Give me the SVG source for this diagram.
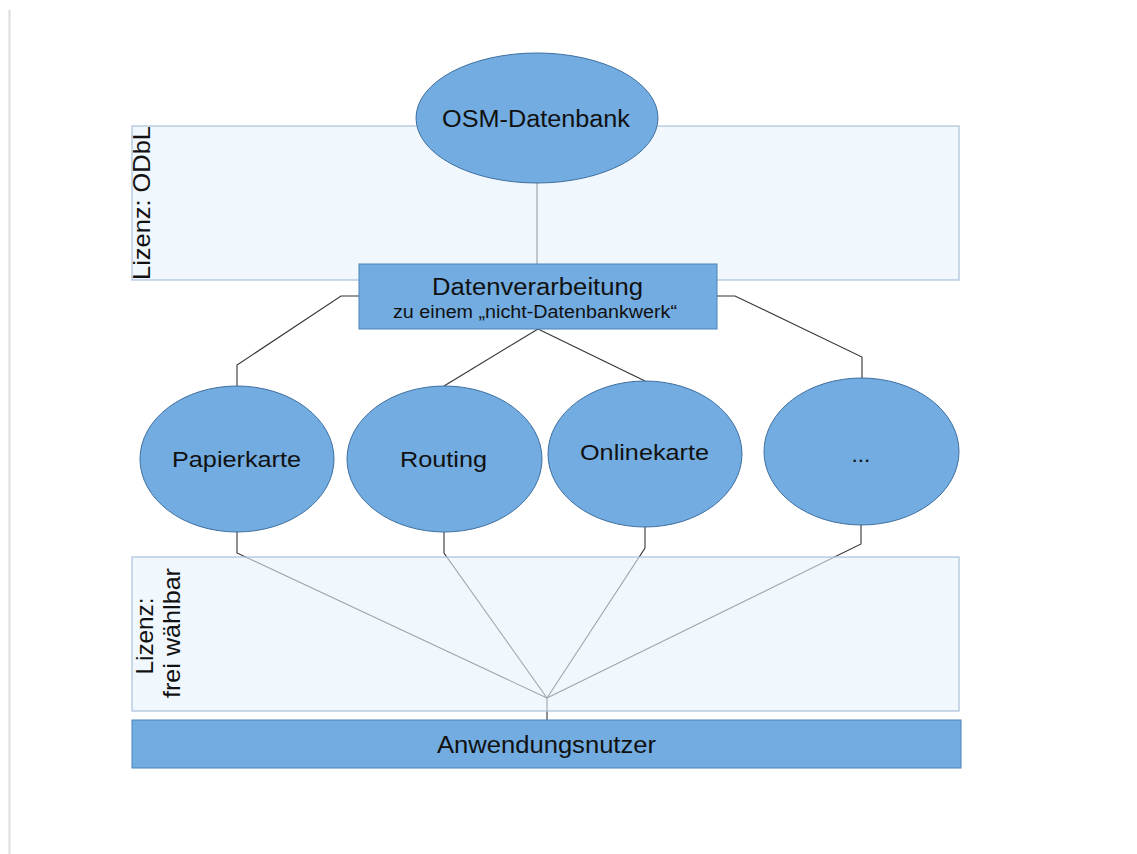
<svg xmlns="http://www.w3.org/2000/svg" width="1137" height="854" viewBox="0 0 1137 854">
<style>
  text { font-family: "Liberation Sans", Arial, sans-serif; fill: #111; }
  .band { fill: #e6f1fb; fill-opacity: 0.6; stroke: #a9c0da; stroke-width: 1.2; }
  .node { fill: #72ace0; stroke: #3f6f9f; stroke-width: 1; }
  .box { fill: #72ace0; stroke: #4a84bd; stroke-width: 1; }
  .conn { fill: none; stroke: #333; stroke-width: 1.1; }
  .big { font-size: 23.5px; }
  .mid { font-size: 22.5px; }
</style>
<rect x="0" y="0" width="1137" height="854" fill="#ffffff"/>
<line x1="9.5" y1="10" x2="9.5" y2="854" stroke="#dcdcdc" stroke-width="2"/>

<g id="connectors">
  <line class="conn" x1="537" y1="183" x2="537" y2="264" style="stroke:#222"/>
  <polyline class="conn" points="359,296 341,296 237,365 237,386"/>
  <polyline class="conn" points="538,329 444,386"/>
  <polyline class="conn" points="538,329 645,381"/>
  <polyline class="conn" points="717,296 735,296 862,357 862,378"/>
  <polyline class="conn" points="237,532 237,553 547,698"/>
  <polyline class="conn" points="444,532 444,553 547,698"/>
  <polyline class="conn" points="645,527 645,548 547,698"/>
  <polyline class="conn" points="861,525 861,544 547,698"/>
  <line class="conn" x1="547" y1="698" x2="547" y2="720"/>
</g>

<g id="band-odbl">
  <rect class="band" x="132" y="126" width="827" height="154"/>
  <text transform="translate(150,203) rotate(-90)" text-anchor="middle" style="font-size:24.5px" textLength="154" lengthAdjust="spacingAndGlyphs">Lizenz: ODbL</text>
</g>

<g id="band-frei">
  <rect class="band" x="132" y="557" width="827" height="154"/>
  <text transform="translate(153,636) rotate(-90)" text-anchor="middle" style="font-size:24.5px" textLength="77" lengthAdjust="spacingAndGlyphs">Lizenz:</text>
  <text transform="translate(180,633) rotate(-90)" text-anchor="middle" style="font-size:24.5px" textLength="130" lengthAdjust="spacingAndGlyphs">frei wählbar</text>
</g>

<g id="osm-datenbank">
  <ellipse class="node" cx="537" cy="118" rx="121" ry="65"/>
  <text class="big" x="442" y="127" textLength="188" lengthAdjust="spacingAndGlyphs">OSM-Datenbank</text>
</g>

<g id="datenverarbeitung">
  <rect class="box" x="359" y="264" width="358" height="65"/>
  <text class="big" x="432" y="295" textLength="211" lengthAdjust="spacingAndGlyphs">Datenverarbeitung</text>
  <text x="393" y="318" style="font-size:17.5px" textLength="284" lengthAdjust="spacingAndGlyphs">zu einem „nicht-Datenbankwerk“</text>
</g>

<g id="papierkarte">
  <ellipse class="node" cx="237" cy="459" rx="97" ry="73"/>
  <text class="mid" x="172" y="467" textLength="129" lengthAdjust="spacingAndGlyphs">Papierkarte</text>
</g>

<g id="routing">
  <ellipse class="node" cx="444.5" cy="459" rx="97.5" ry="73"/>
  <text class="mid" x="400" y="467" textLength="87" lengthAdjust="spacingAndGlyphs">Routing</text>
</g>

<g id="onlinekarte">
  <ellipse class="node" cx="645" cy="454" rx="97" ry="73"/>
  <text class="mid" x="580" y="460" textLength="129" lengthAdjust="spacingAndGlyphs">Onlinekarte</text>
</g>

<g id="weitere">
  <ellipse class="node" cx="861.5" cy="451.5" rx="97.5" ry="73.5"/>
  <text class="mid" x="861" y="462" text-anchor="middle">...</text>
</g>

<g id="anwendungsnutzer">
  <rect class="box" x="132" y="720" width="829" height="48"/>
  <text class="big" x="437" y="753" textLength="219" lengthAdjust="spacingAndGlyphs">Anwendungsnutzer</text>
</g>
</svg>
